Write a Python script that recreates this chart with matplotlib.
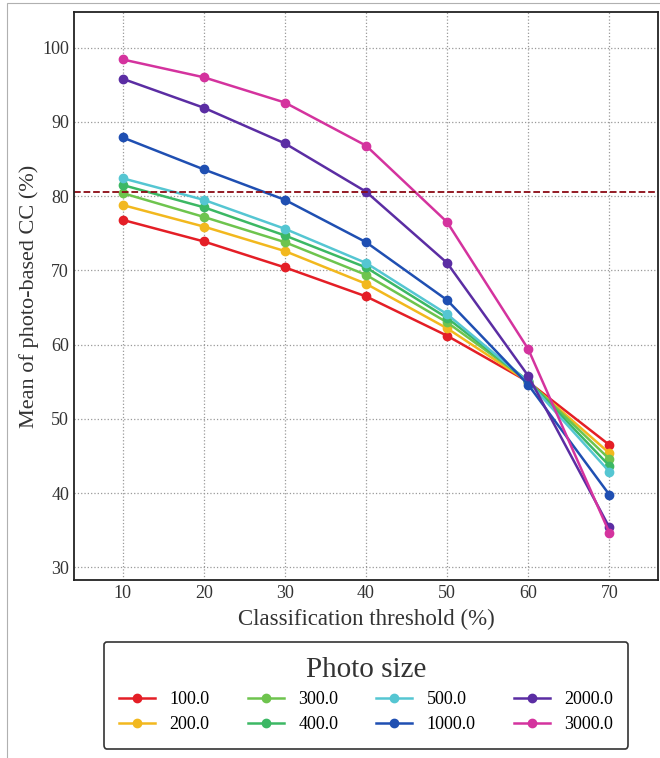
import matplotlib.pyplot as plt
from matplotlib.patches import Rectangle

plt.rcParams['font.family'] = ['Liberation Serif', 'DejaVu Serif']

thresholds = [10, 20, 30, 40, 50, 60, 70]
sizes = ['100.0', '200.0', '300.0', '400.0', '500.0', '1000.0', '2000.0', '3000.0']

cc_100 = [76.8, 73.9, 70.4, 66.5, 61.2, 55.0, 46.5]
cc_200 = [78.8, 75.9, 72.6, 68.2, 62.2, 55.0, 45.4]
cc_300 = [80.4, 77.2, 73.8, 69.4, 63.0, 55.1, 44.6]
cc_400 = [81.5, 78.5, 74.7, 70.4, 63.6, 55.1, 43.7]
cc_500 = [82.4, 79.5, 75.6, 71.0, 64.1, 55.0, 42.9]
cc_1000 = [87.9, 83.6, 79.5, 73.8, 66.0, 54.6, 39.8]
cc_2000 = [95.8, 91.9, 87.1, 80.6, 71.0, 55.8, 35.4]
cc_3000 = [98.4, 96.0, 92.6, 86.8, 76.5, 59.4, 34.7]

ref_line = 80.5

series = [cc_100, cc_200, cc_300, cc_400, cc_500, cc_1000, cc_2000, cc_3000]
colors = ['#e41e26', '#f2b81e', '#6ec44e', '#3cb864', '#55c6d2',
          '#1f4fb2', '#5b2da3', '#d4339e']

fig = plt.figure(figsize=(6.6, 7.58), dpi=100)
ax = fig.add_axes([0.112, 0.235, 0.885, 0.749])

# thin frame around the whole figure
fig.patches.append(Rectangle((0.011, -0.1), 1.2, 1.096, transform=fig.transFigure,
                             fill=False, edgecolor='#b0b0b0', linewidth=0.8))

for vals, c, lab in zip(series, colors, sizes):
    ax.plot(thresholds, vals, marker='o', markersize=6, linewidth=1.8,
            color=c, label=lab)

ax.axhline(ref_line, color='#8b0a14', linestyle='--', linewidth=1.3)

ax.margins(0.1)
ax.set_xticks(thresholds)
ax.set_yticks([30, 40, 50, 60, 70, 80, 90, 100])
ax.grid(True, linestyle=':', color='#999999', linewidth=0.9)
ax.set_axisbelow(True)
ax.tick_params(length=0, labelsize=13, pad=3.5, colors='#333333')
for s in ax.spines.values():
    s.set_linewidth(1.3)
    s.set_color('#222222')

ax.set_xlabel('Classification threshold (%)', fontsize=16.5, color='#333333', labelpad=5)
ax.set_ylabel('Mean of photo-based CC (%)', fontsize=16, color='#333333', labelpad=2)

leg = ax.legend(title='Photo size', ncol=4, loc='upper center',
                bbox_to_anchor=(0.5, -0.093), fontsize=13, title_fontsize=21,
                frameon=True, fancybox=True, edgecolor='#333333',
                handlelength=2.0, columnspacing=2.1, borderpad=0.85,
                labelspacing=0.45)
leg.get_frame().set_linewidth(1.2)
leg.get_frame().set_alpha(1)
leg.get_title().set_color('#333333')

fig.savefig('out.png', dpi=100)
